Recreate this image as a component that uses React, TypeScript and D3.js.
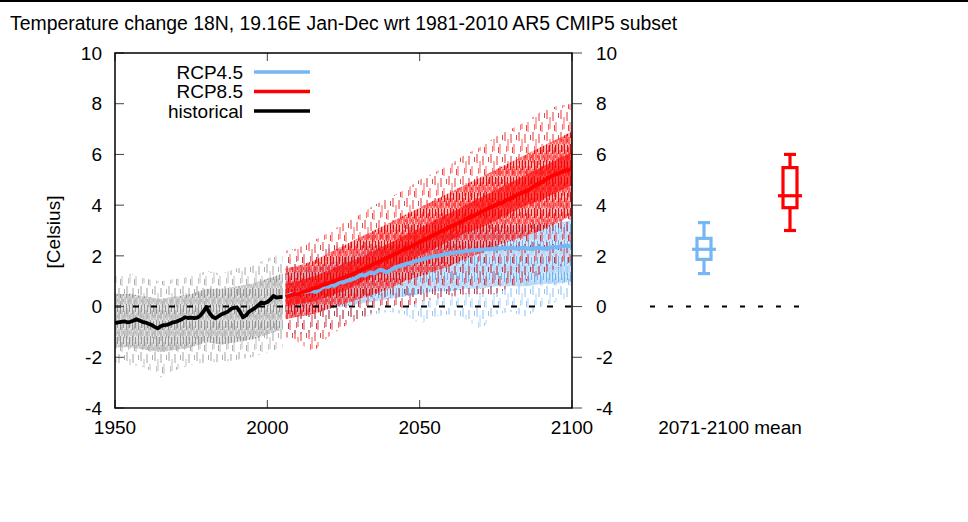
import React from "react";
import * as d3 from "d3";

const TITLE = "Temperature change 18N, 19.16E Jan-Dec wrt 1981-2010 AR5 CMIP5 subset";
const Y_LABEL = "[Celsius]";
const BOX_LABEL = "2071-2100 mean";
const yTicks = [-4, -2, 0, 2, 4, 6, 8, 10];
const xTicks = [1950, 2000, 2050, 2100];
const legendNames = ["RCP4.5", "RCP8.5", "historical"];

const histStart = 1950;
const rcpStart = 2006;

// ensemble means (annual)
const histMean = [
  -0.65, -0.62, -0.6, -0.58, -0.62, -0.6, -0.56, -0.5, -0.55, -0.6,
  -0.63, -0.68, -0.72, -0.8, -0.86, -0.78, -0.73, -0.72, -0.68, -0.62,
  -0.6, -0.55, -0.5, -0.42, -0.45, -0.44, -0.46, -0.44, -0.35, -0.2,
  -0.02, -0.25, -0.4, -0.46, -0.38, -0.3, -0.26, -0.2, -0.1, -0.05,
  -0.03, -0.2, -0.42, -0.35, -0.2, -0.13, -0.05, 0.05, 0.16, 0.13,
  0.18, 0.28, 0.42, 0.35, 0.37, 0.38,
];
const rcp45Mean = [
  0.4, 0.45, 0.5, 0.48, 0.52,
  0.55, 0.6, 0.58, 0.62, 0.6,
  0.58, 0.65, 0.75, 0.8, 0.78,
  0.85, 0.82, 0.9, 0.98, 0.95,
  1.02, 1.05, 1.08, 1.12, 1.2,
  1.25, 1.22, 1.3, 1.35, 1.3,
  1.38, 1.45, 1.42, 1.35, 1.4,
  1.48, 1.55, 1.58, 1.62, 1.66,
  1.7, 1.72, 1.76, 1.8, 1.84,
  1.86, 1.9, 1.93, 1.96, 1.98,
  2.0, 2.03, 2.06, 2.08, 2.1,
  2.12, 2.14, 2.15, 2.17, 2.18,
  2.2, 2.2, 2.22, 2.23, 2.24,
  2.25, 2.26, 2.26, 2.28, 2.27,
  2.28, 2.3, 2.31, 2.3, 2.32,
  2.3, 2.28, 2.3, 2.32, 2.3,
  2.28, 2.27, 2.3, 2.32, 2.3,
  2.28, 2.3, 2.33, 2.35, 2.34,
  2.36, 2.38, 2.4, 2.38, 2.4,
];
const rcp85Mean = [
  0.38, 0.42, 0.45, 0.5, 0.48,
  0.55, 0.6, 0.62, 0.66, 0.72,
  0.74, 0.78, 0.85, 0.88, 0.92,
  0.97, 1.0, 1.06, 1.1, 1.14,
  1.18, 1.24, 1.28, 1.33, 1.4,
  1.45, 1.5, 1.56, 1.62, 1.68,
  1.73, 1.78, 1.84, 1.9, 1.96,
  2.02, 2.08, 2.13, 2.2, 2.26,
  2.3, 2.36, 2.42, 2.48, 2.55,
  2.6, 2.66, 2.72, 2.78, 2.84,
  2.9, 2.96, 3.02, 3.08, 3.14,
  3.2, 3.26, 3.3, 3.36, 3.43,
  3.5, 3.55, 3.6, 3.66, 3.72,
  3.78, 3.84, 3.9, 3.95, 4.0,
  4.06, 4.1, 4.16, 4.22, 4.28,
  4.33, 4.4, 4.46, 4.5, 4.55,
  4.62, 4.7, 4.78, 4.84, 4.9,
  4.98, 5.05, 5.12, 5.18, 5.22,
  5.28, 5.32, 5.36, 5.4, 5.42,
];

// ensemble spread (estimated envelopes of the individual members)
const histEnvYears = [1950, 1955, 1960, 1965, 1970, 1975, 1980, 1985, 1990, 1995, 2000, 2005];
const histHiExt = [1.2, 1.3, 1.1, 1.0, 1.1, 1.2, 1.4, 1.3, 1.5, 1.6, 1.9, 2.1];
const histHiCore = [0.5, 0.5, 0.4, 0.3, 0.4, 0.5, 0.7, 0.7, 0.8, 0.9, 1.1, 1.3];
const histLoCore = [-1.6, -1.6, -1.7, -1.8, -1.7, -1.6, -1.4, -1.5, -1.4, -1.3, -1.1, -0.9];
const histLoExt = [-2.2, -2.3, -2.4, -2.8, -2.5, -2.3, -2.2, -2.2, -2.1, -2.0, -1.8, -1.6];

const rcpEnvYears = [2006, 2010, 2015, 2020, 2025, 2030, 2035, 2040, 2045, 2050, 2055, 2060, 2065, 2070, 2075, 2080, 2085, 2090, 2095, 2100];
const rcp85HiExt = [2.2, 2.3, 2.6, 2.9, 3.3, 3.6, 4.0, 4.3, 4.6, 5.0, 5.3, 5.6, 6.0, 6.3, 6.7, 7.0, 7.3, 7.7, 7.9, 8.0];
const rcp85HiCore = [1.5, 1.6, 1.8, 2.1, 2.4, 2.7, 3.0, 3.3, 3.6, 3.9, 4.2, 4.5, 4.8, 5.1, 5.4, 5.7, 6.0, 6.3, 6.6, 6.9];
const rcp85LoCore = [-0.5, -0.4, -0.3, -0.1, 0.1, 0.3, 0.5, 0.7, 1.0, 1.2, 1.4, 1.6, 1.9, 2.1, 2.4, 2.6, 2.8, 3.0, 3.3, 3.6];
const rcp85LoExt = [-1.2, -1.4, -1.8, -1.2, -0.8, -0.5, -0.2, 0.0, -0.1, 0.2, 0.3, 0.4, 0.5, 0.5, 0.5, 0.8, 1.0, 1.3, 1.5, 1.8];
// inner, most crowded part of the RCP8.5 ensemble
const rcp85HiInner = [0.9, 1.0, 1.2, 1.4, 1.7, 1.9, 2.2, 2.5, 2.8, 3.1, 3.4, 3.7, 4.0, 4.3, 4.6, 4.9, 5.2, 5.5, 5.8, 6.1];
const rcp85LoInner = [0.0, 0.1, 0.2, 0.4, 0.6, 0.9, 1.2, 1.4, 1.7, 2.0, 2.3, 2.6, 2.9, 3.1, 3.4, 3.7, 4.0, 4.2, 4.5, 4.8];

const rcp45HiExt = [1.8, 2.0, 2.1, 2.3, 2.5, 2.7, 2.9, 3.0, 3.1, 3.3, 3.5, 3.6, 3.7, 3.8, 3.8, 3.9, 3.9, 4.0, 4.0, 4.1];
const rcp45HiCore = [1.3, 1.4, 1.5, 1.7, 1.9, 2.1, 2.3, 2.4, 2.5, 2.7, 2.8, 2.9, 3.0, 3.1, 3.1, 3.2, 3.2, 3.3, 3.3, 3.4];
const rcp45LoCore = [-0.3, -0.3, -0.2, -0.1, 0.0, 0.1, 0.2, 0.3, 0.4, 0.5, 0.6, 0.6, 0.7, 0.7, 0.8, 0.8, 0.8, 0.9, 0.9, 1.0];
const rcp45LoExt = [-1.0, -1.1, -1.0, -0.9, -0.7, -0.5, -0.3, -0.2, -0.3, -0.7, -0.4, -0.3, -0.5, -0.9, -0.3, -0.2, -0.4, 0.0, 0.2, 0.4];

// 2071-2100 mean box plots
const boxNames = ["RCP4.5", "RCP8.5"];
const boxMin = [1.3, 3.0];
const boxQ1 = [1.86, 3.9];
const boxMed = [2.26, 4.37];
const boxQ3 = [2.69, 5.48];
const boxMax = [3.31, 6.0];

const BLUE = "#76b6f3";
const RED = "#ff0000";
const FONT = "'Liberation Sans', Arial, Helvetica, sans-serif";

type Row = [number, number, number];

export default function App() {
  const x = d3.scaleLinear().domain([1950, 2100]).range([115, 572]);
  const y = d3.scaleLinear().domain([-4, 10]).range([408, 53]);
  const bx = d3.scalePoint<string>().domain(boxNames).range([704, 790]);

  const band = d3
    .area<Row>()
    .x((d) => x(d[0]))
    .y0((d) => y(d[1]))
    .y1((d) => y(d[2]));
  const line = d3
    .line<[number, number]>()
    .x((d) => x(d[0]))
    .y((d) => y(d[1]));

  const rows = (yrs: number[], lo: number[], hi: number[]): Row[] =>
    yrs.map((yr, i) => [yr, lo[i], hi[i]]);
  const series = (start: number, vals: number[]): [number, number][] =>
    vals.map((v, i) => [start + i, v]);

  // sparse vertical dashes: look of individual ensemble members
  const sparse = (id: string, c1: string, c2: string) => (
    <pattern id={id} width={14} height={22} patternUnits="userSpaceOnUse">
      <line x1={1} y1={0} x2={1} y2={9} stroke={c1} strokeWidth={0.8} />
      <line x1={4} y1={7} x2={4} y2={19} stroke={c2} strokeWidth={0.8} />
      <line x1={7} y1={2} x2={7} y2={11} stroke={c1} strokeWidth={0.8} />
      <line x1={10} y1={12} x2={10} y2={22} stroke={c2} strokeWidth={0.8} />
      <line x1={12.5} y1={3} x2={12.5} y2={8} stroke={c1} strokeWidth={0.7} />
      <line x1={2.5} y1={14} x2={2.5} y2={20} stroke={c2} strokeWidth={0.7} />
      <line x1={8.5} y1={15} x2={8.5} y2={21} stroke={c1} strokeWidth={0.7} />
    </pattern>
  );
  const dense = (id: string, c1: string, c2: string) => (
    <pattern id={id} width={6} height={16} patternUnits="userSpaceOnUse">
      <line x1={0.5} y1={0} x2={0.5} y2={10} stroke={c1} strokeWidth={0.9} />
      <line x1={2} y1={6} x2={2} y2={16} stroke={c2} strokeWidth={0.9} />
      <line x1={3.5} y1={1} x2={3.5} y2={8} stroke={c1} strokeWidth={0.9} />
      <line x1={5} y1={9} x2={5} y2={16} stroke={c2} strokeWidth={0.9} />
      <line x1={3.5} y1={11} x2={3.5} y2={14} stroke={c2} strokeWidth={0.8} />
    </pattern>
  );

  return (
    <svg
      width={968}
      height={522}
      style={{ position: "absolute", left: 0, top: 0, background: "#fff" }}
      fontFamily={FONT}
    >
      <defs>
        {sparse("sGray", "#8c8c8c", "#b0b0b0")}
        {dense("dGray", "#8e8e8e", "#acacac")}
        {sparse("sRed", "#d80000", "#ff3030")}
        {dense("dRed", "#e00000", "#ff1a1a")}
        {sparse("sBlue", "#6aaef0", "#9ccaf7")}
        {dense("dBlue", "#6aaef0", "#a4cff8")}
        <clipPath id="plotClip">
          <rect x={115} y={53} width={457} height={355} />
        </clipPath>
      </defs>
      <rect x={0} y={0} width={968} height={522} fill="#fff" />
      <rect x={0} y={0} width={968} height={2} fill="#000" />

      <text x={10} y={30} fontSize={19.4}>{TITLE}</text>

      <g clipPath="url(#plotClip)">
        {/* historical spread */}
        <path d={band(rows(histEnvYears, histLoExt, histHiExt)) || ""} fill="url(#sGray)" />
        <path d={band(rows(histEnvYears, histLoCore, histHiCore)) || ""} fill="#b4b4b4" opacity={0.4} />
        <path d={band(rows(histEnvYears, histLoCore, histHiCore)) || ""} fill="url(#dGray)" />

        {/* RCP4.5 spread */}
        <path d={band(rows(rcpEnvYears, rcp45LoExt, rcp45HiExt)) || ""} fill="url(#sBlue)" />
        <path d={band(rows(rcpEnvYears, rcp45LoCore, rcp45HiCore)) || ""} fill={BLUE} opacity={0.35} />
        <path d={band(rows(rcpEnvYears, rcp45LoCore, rcp45HiCore)) || ""} fill="url(#dBlue)" />

        {/* RCP8.5 spread */}
        <path d={band(rows(rcpEnvYears, rcp85LoExt, rcp85HiExt)) || ""} fill="url(#sRed)" />
        <path d={band(rows(rcpEnvYears, rcp85LoCore, rcp85HiCore)) || ""} fill="#ff3a3a" opacity={0.4} />
        <path d={band(rows(rcpEnvYears, rcp85LoCore, rcp85HiCore)) || ""} fill="url(#dRed)" />
        <path d={band(rows(rcpEnvYears, rcp85LoInner, rcp85HiInner)) || ""} fill="#ff0000" opacity={0.6} />

        <line x1={x(1950)} x2={x(2100)} y1={y(0)} y2={y(0)} stroke="#000" strokeWidth={2} strokeDasharray="6,12" />

        <path d={line(series(histStart, histMean)) || ""} fill="none" stroke="#000" strokeWidth={3.8} strokeLinejoin="round" />
        <path d={line(series(rcpStart, rcp45Mean)) || ""} fill="none" stroke={BLUE} strokeWidth={4} strokeLinejoin="round" />
        <path d={line(series(rcpStart, rcp85Mean)) || ""} fill="none" stroke={RED} strokeWidth={4} strokeLinejoin="round" />
      </g>

      {/* ticks */}
      {yTicks.map((t) => (
        <g key={"y" + t}>
          <line x1={115} x2={124} y1={y(t)} y2={y(t)} stroke="#444" strokeWidth={1} />
          <line x1={572} x2={582} y1={y(t)} y2={y(t)} stroke="#444" strokeWidth={1} />
          <text x={102} y={y(t)} dy="0.35em" textAnchor="end" fontSize={19}>{t}</text>
          <text x={596} y={y(t)} dy="0.35em" textAnchor="start" fontSize={19}>{t}</text>
        </g>
      ))}
      {xTicks.map((t) => (
        <g key={"x" + t}>
          <line x1={x(t)} x2={x(t)} y1={408} y2={400} stroke="#444" strokeWidth={1} />
          <line x1={x(t)} x2={x(t)} y1={53} y2={61} stroke="#444" strokeWidth={1} />
          <text x={x(t)} y={434} textAnchor="middle" fontSize={19}>{t}</text>
        </g>
      ))}
      <rect x={115} y={53} width={457} height={355} fill="none" stroke="#000" strokeWidth={1.5} />

      <text transform="translate(53,232) rotate(-90)" textAnchor="middle" dy="0.35em" fontSize={19}>{Y_LABEL}</text>

      {/* legend */}
      {legendNames.map((n, i) => (
        <g key={n}>
          <text x={243} y={72 + i * 19.5} dy="0.35em" textAnchor="end" fontSize={19}>{n}</text>
          <line x1={254} x2={310} y1={72 + i * 19.5} y2={72 + i * 19.5} stroke={[BLUE, RED, "#000"][i]} strokeWidth={3.5} />
        </g>
      ))}

      {/* box plots */}
      <line x1={650} x2={800} y1={y(0)} y2={y(0)} stroke="#000" strokeWidth={2} strokeDasharray="5,13" />
      {boxNames.map((n, i) => {
        const cx = bx(n) as number;
        const c = i === 0 ? BLUE : RED;
        return (
          <g key={n} stroke={c} strokeWidth={3.2} fill="none">
            <line x1={cx} x2={cx} y1={y(boxMin[i])} y2={y(boxQ1[i])} />
            <line x1={cx} x2={cx} y1={y(boxQ3[i])} y2={y(boxMax[i])} />
            <line x1={cx - 6} x2={cx + 6} y1={y(boxMin[i])} y2={y(boxMin[i])} />
            <line x1={cx - 6} x2={cx + 6} y1={y(boxMax[i])} y2={y(boxMax[i])} />
            <rect x={cx - 7} y={y(boxQ3[i])} width={14} height={y(boxQ1[i]) - y(boxQ3[i])} />
            <line x1={cx - 12} x2={cx + 12} y1={y(boxMed[i])} y2={y(boxMed[i])} />
          </g>
        );
      })}
      <text x={730} y={434} textAnchor="middle" fontSize={19}>{BOX_LABEL}</text>
    </svg>
  );
}
